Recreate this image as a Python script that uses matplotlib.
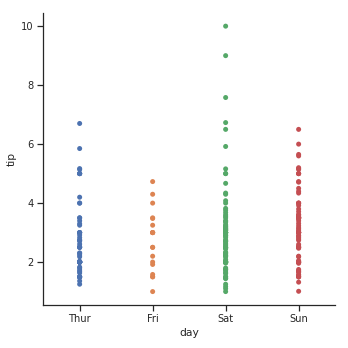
import matplotlib
matplotlib.use("Agg")
import matplotlib.pyplot as plt
import pandas as pd
import seaborn as sns

# tip amounts per day
days = ["Thur", "Fri", "Sat", "Sun"]

thur_tips = [4.00, 3.00, 2.71, 3.00, 3.40, 1.83, 5.00, 2.03, 5.17, 2.00, 4.00, 5.85,
             3.00, 1.50, 1.80, 2.92, 2.31, 1.68, 2.50, 2.00, 2.52, 4.20, 1.48, 2.00,
             2.00, 2.18, 1.50, 2.83, 1.50, 2.00, 3.25, 1.25, 2.00, 2.00, 2.00, 2.75,
             3.50, 6.70, 5.00, 5.00, 2.30, 1.50, 1.36, 1.63, 1.73, 2.00, 2.50, 2.00,
             2.74, 2.00, 2.00, 5.14, 5.00, 3.30, 2.61, 2.00, 3.50, 2.50, 2.00, 2.00,
             3.00, 2.24]
fri_tips = [3.00, 3.50, 1.00, 4.30, 3.25, 4.73, 4.00, 1.50, 3.00, 1.50, 2.50, 3.00,
            2.50, 2.20, 3.48, 1.92, 3.00, 1.58, 2.00]
sat_tips = [3.35, 4.08, 2.75, 2.23, 7.58, 3.18, 2.34, 2.00, 2.00, 4.30, 3.00, 1.45,
            2.50, 3.00, 2.45, 3.27, 3.60, 2.00, 3.07, 2.31, 5.00, 2.24, 3.00, 1.50,
            1.76, 6.73, 3.21, 2.00, 1.98, 3.76, 2.64, 3.15, 2.47, 1.00, 2.01, 2.09,
            1.97, 3.00, 3.14, 5.00, 2.20, 1.25, 3.08, 4.00, 3.00, 2.71, 9.00, 10.00,
            6.50, 5.92, 5.16, 4.67, 4.34, 3.39, 3.55, 3.68, 2.56, 2.02, 1.10, 1.17,
            1.44, 1.50, 1.75, 1.80, 2.03, 2.18, 2.50, 2.60, 3.00, 3.50, 2.00, 2.50,
            3.23, 2.88, 2.92, 3.09, 2.72, 1.64, 1.61, 3.11, 2.90, 2.30, 2.83, 3.40,
            2.70, 1.70, 3.82]
sun_tips = [1.01, 1.66, 3.50, 3.31, 3.61, 4.71, 2.00, 3.12, 1.96, 3.23, 1.71, 5.00,
            1.57, 3.00, 3.02, 3.92, 1.67, 3.71, 3.50, 2.54, 3.06, 1.32, 5.60, 3.00,
            5.00, 6.00, 2.05, 3.00, 2.50, 2.60, 5.20, 1.56, 4.34, 3.51, 3.00, 1.50,
            2.50, 4.00, 3.50, 2.00, 5.65, 3.50, 6.50, 3.00, 5.00, 3.50, 2.00, 3.50,
            4.00, 1.50, 2.50, 4.00, 3.00, 2.00, 5.17, 4.50, 3.48, 2.18, 1.50, 2.00,
            2.74, 5.14, 2.83, 4.73, 3.55, 2.47, 3.16, 2.88, 3.40, 2.90, 3.80, 3.60,
            4.40, 2.78, 2.20, 1.75]

tips = pd.DataFrame({
    "day": (["Thur"] * len(thur_tips) + ["Fri"] * len(fri_tips)
            + ["Sat"] * len(sat_tips) + ["Sun"] * len(sun_tips)),
    "tip": thur_tips + fri_tips + sat_tips + sun_tips,
})

sns.set_theme(style="ticks", font_scale=0.9)
plt.rcParams["font.family"] = ["DejaVu Sans"]

fig = plt.figure(figsize=(348 / 72, 348 / 72), dpi=72)
ax = fig.add_axes([0.124, 0.124, 0.839, 0.839])

sns.stripplot(data=tips, x="day", y="tip", hue="day", order=days, hue_order=days,
              palette="deep", jitter=False, size=5, legend=False, ax=ax)
sns.despine(ax=ax)

ax.set_xlim(-0.5, 3.5)
ax.set_ylim(0.55, 10.45)
ax.set_yticks([2, 4, 6, 8, 10])

fig.savefig("out.png", dpi=72)
